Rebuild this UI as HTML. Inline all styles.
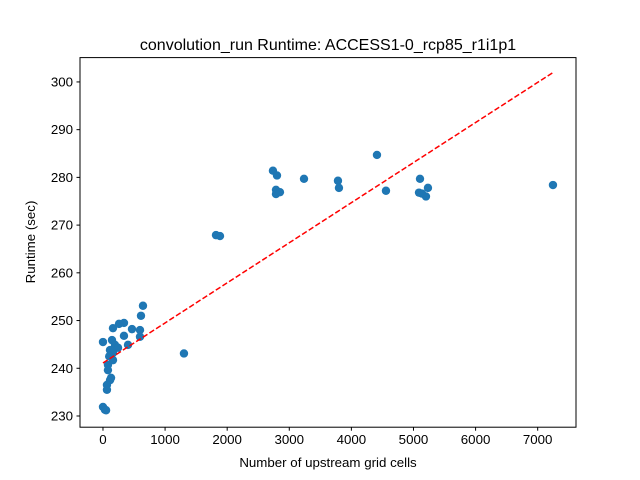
<!DOCTYPE html>
<html><head><meta charset="utf-8"><style>
body{margin:0;background:#fff}
svg{display:block;font-family:"Liberation Sans","DejaVu Sans",sans-serif}
</style></head><body>
<svg id="chart" width="640" height="480" viewBox="0 0 640 480">
<rect width="640" height="480" fill="#fff"/>
<text x="328" y="50" text-anchor="middle" font-size="16">convolution_run Runtime: ACCESS1-0_rcp85_r1i1p1</text>
<text x="328" y="467" text-anchor="middle" font-size="13.3">Number of upstream grid cells</text>
<text transform="translate(35,242) rotate(-90)" text-anchor="middle" font-size="13.3">Runtime (sec)</text>
<g id="ticks"></g><g id="marks"></g>
<rect x="80" y="57.6" width="496" height="369.6" fill="none" stroke="#000" stroke-width="1"/>
</svg>
<script>
const cellsX=[644,612,161,258,338,467,596,596,338,403,0,145,193,242,113,161,161,80,80,113,64,64,0,32,1304,1820,1884,2737,2786,2786,2802,2850,3237,3784,3800,4412,4557,5105,5089,5137,5201,5233,7246,100,130,50];
const runtimeY=[253.1,251.0,248.4,249.3,249.5,248.2,248.0,246.6,246.8,244.9,245.5,245.9,244.9,244.3,243.8,243.2,241.7,240.7,239.6,237.5,236.5,235.5,231.9,231.3,243.1,267.9,267.7,281.4,277.4,276.5,280.4,276.9,279.7,279.3,277.8,284.7,277.2,279.7,276.8,276.6,276.0,277.8,278.4,242.5,238,231.2];
const fitParams=[241.1,0.0084];
const fitRange=[0,7246];
const xTicks=[0,1000,2000,3000,4000,5000,6000,7000];
const yTicks=[230,240,250,260,270,280,290,300];
const NS='http://www.w3.org/2000/svg';
const X0=-370,X1=7617,Y0=227.65,Y1=305.1,L=80,R=576,T=57.6,B=427.2;
const sx=v=>L+(v-X0)/(X1-X0)*(R-L);
const sy=v=>B-(v-Y0)/(Y1-Y0)*(B-T);
function mk(t,a,p){const e=document.createElementNS(NS,t);for(const k in a)e.setAttribute(k,a[k]);p.appendChild(e);return e;}
const tg=document.getElementById('ticks'),mg=document.getElementById('marks');
xTicks.forEach(v=>{const x=sx(v);
 const l=mk('line',{x1:x,x2:x,y1:B,y2:B+3.5,stroke:'#000'},tg);
 
 
 const t=mk('text',{x:x,y:B+17,'text-anchor':'middle','font-size':'13.3'},tg);t.textContent=v;
 
 });
yTicks.forEach(v=>{const y=sy(v);
 const l=mk('line',{x1:L-3.5,x2:L,y1:y,y2:y,stroke:'#000'},tg);
 
 
 const t=mk('text',{x:L-7,y:y+4.5,'text-anchor':'end','font-size':'13.3'},tg);t.textContent=v;
 
 });
cellsX.forEach((v,i)=>{const c=mk('circle',{cx:sx(v),cy:sy(runtimeY[i]),r:4.2,fill:'#1f77b4'},mg);
 
 });
const fl=mk('line',{x1:sx(fitRange[0]),y1:sy(fitParams[0]+fitParams[1]*fitRange[0]),x2:sx(fitRange[1]),y2:sy(fitParams[0]+fitParams[1]*fitRange[1]),stroke:'red','stroke-width':1.5,'stroke-dasharray':'5.5,2.4'},mg);


</script>
</body></html>
